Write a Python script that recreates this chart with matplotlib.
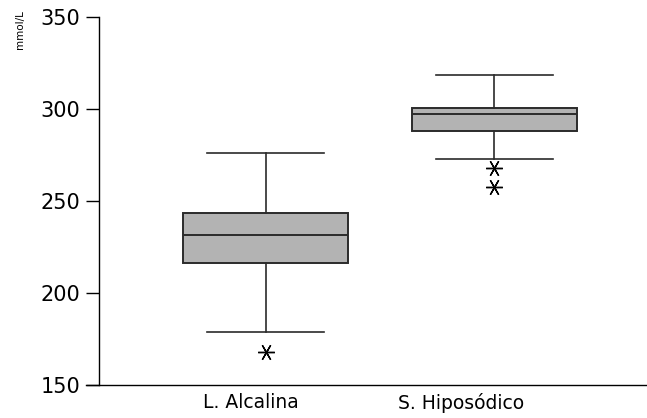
import matplotlib
matplotlib.use('Agg')
import matplotlib.pyplot as plt
import matplotlib.transforms as mtransforms

# ---------------- data
groups   = ["L. Alcalina", "S. Hiposódico"]
q1       = [216.3, 287.9]
medians  = [231.8, 297.4]
q3       = [243.6, 300.8]
wlo      = [179.0, 273.0]
whi      = [276.4, 318.5]
outliers = [[167.7], [268.2, 257.6]]

yticks = [150, 200, 250, 300, 350]

plt.rcParams['font.family'] = ['DejaVu Sans']

stats = []
for i in range(len(groups)):
    stats.append(dict(label=groups[i], q1=q1[i], med=medians[i], q3=q3[i],
                      whislo=wlo[i], whishi=whi[i], fliers=outliers[i]))

fig = plt.figure(figsize=(6.47, 4.18), dpi=100)
ax = fig.add_axes([0.153, 0.079, 0.847, 0.88])

edge = '#2b2b2b'
bp = ax.bxp(stats, positions=[1, 2], widths=0.72, patch_artist=True,
            boxprops=dict(facecolor='#b3b3b3', edgecolor=edge, linewidth=1.4),
            medianprops=dict(color=edge, linewidth=1.4),
            whiskerprops=dict(color=edge, linewidth=1.2),
            capprops=dict(color=edge, linewidth=1.2),
            capwidths=0.51,
            flierprops=dict(marker=(6, 2, 30), markersize=12, markeredgecolor='k',
                            markerfacecolor='none', markeredgewidth=1.0, linestyle='none'))

ax.set_xlim(0.272, 2.667)
ax.set_ylim(150, 350)
ax.set_yticks(yticks)
ax.spines['top'].set_visible(False)
ax.spines['right'].set_visible(False)
ax.spines['left'].set_linewidth(1.0)
ax.spines['bottom'].set_linewidth(1.0)
ax.spines['bottom'].set_bounds(0.272 - 0.057, 2.667)
ax.spines['bottom'].set_clip_on(False)
ax.tick_params(axis='y', length=9.5, width=1.0, labelsize=15, pad=4)
ax.tick_params(axis='x', length=0, labelsize=13.5, pad=6)

# category labels sit a bit left of the boxes in the original
shifts = [-15, -33]
for lab, dx in zip(ax.get_xticklabels(), shifts):
    lab.set_transform(lab.get_transform() +
                      mtransforms.ScaledTranslation(dx / 100, 0, fig.dpi_scale_trans))

fig.text(0.031, 0.929, 'mmol/L', rotation=90, fontsize=7.5, ha='center', va='center')

plt.savefig('out.png', dpi=100)
